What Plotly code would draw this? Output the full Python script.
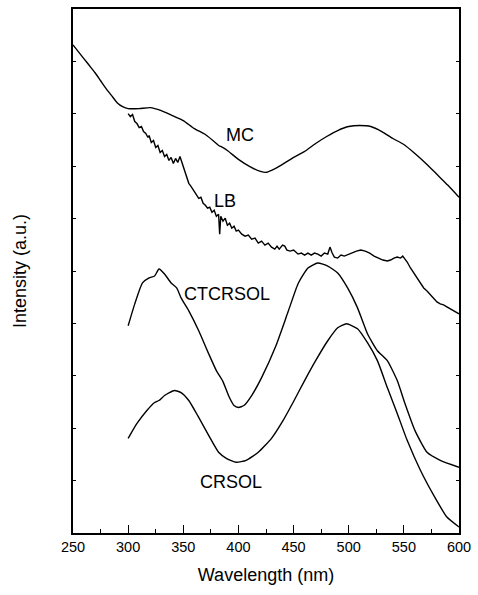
import plotly.graph_objects as go

# Wavelength (nm) and intensity (arbitrary units)
mc_x = [250, 255, 260, 265, 270, 275, 280, 285, 290, 295, 300, 310, 320, 330, 340, 350, 360, 370, 380, 382, 384, 390,
        400, 410, 420, 425, 430, 440, 450, 460, 470, 480, 490, 500, 510, 520, 530, 540, 550, 560, 570, 580, 590, 600]
mc_y = [490, 483, 476, 469, 462, 454, 446, 439, 432, 428, 426, 426, 427, 424, 419, 414, 406, 400, 391, 389, 388, 384,
        375, 368, 363, 362, 364, 370, 377, 383, 391, 398, 404, 408, 409, 408, 403, 396, 390, 381, 371, 360, 349, 337]

lb_x = [300, 302, 304, 306, 308, 310, 312, 314, 316, 318, 319, 321, 323, 325, 327, 329, 331, 333, 335, 337, 339, 341,
        343, 345, 347, 349, 351, 353, 355, 357, 360, 362, 364, 366, 368, 370, 372, 374, 376, 378, 380, 382, 383, 384,
        386, 388, 390, 392, 394, 396, 398, 400, 403, 406, 409, 412, 415, 418, 421, 424, 427, 430, 433, 435, 437, 440,
        442, 444, 447, 450, 454, 457, 460, 463, 466, 469, 472, 475, 478, 481, 483, 485, 487, 490, 493, 496, 500, 503,
        507, 511, 515, 519, 523, 527, 531, 535, 538, 541, 544, 547, 549, 551, 553, 556, 559, 562, 565, 568, 571, 574,
        577, 580, 583, 586, 589, 592, 595, 597, 600]
lb_y = [421, 418, 420, 413, 411, 407, 408, 403, 401, 397, 399, 392, 394, 387, 389, 382, 384, 378, 380, 374, 377, 371,
        376, 372, 378, 371, 364, 358, 351, 348, 343, 340, 336, 337, 331, 329, 326, 327, 322, 324, 318, 320, 300, 318,
        313, 316, 309, 311, 306, 308, 303, 304, 300, 298, 299, 295, 296, 291, 293, 289, 291, 287, 285, 288, 285, 289,
        288, 284, 283, 284, 280, 281, 279, 281, 279, 281, 280, 278, 281, 280, 287, 281, 277, 276, 279, 278, 280, 281,
        283, 284, 283, 281, 278, 276, 274, 273, 274, 276, 277, 276, 278, 275, 272, 266, 261, 256, 250, 246, 243, 239,
        235, 232, 230, 229, 227, 225, 223, 222, 220]

ct_x = [300, 306, 313, 319, 324, 328, 333, 339, 344, 348, 355, 364, 373, 380, 386, 391, 396, 400, 405, 412, 421, 434,
        445, 454, 463, 472, 481, 490, 499, 508, 517, 526, 535, 544, 551, 560, 571, 583, 600]
ct_y = [208, 230, 251, 256, 258, 265, 260, 251, 246, 236, 223, 203, 180, 163, 152, 138, 128, 126, 128, 138, 156, 188,
        222, 250, 266, 271, 268, 261, 246, 226, 200, 183, 173, 153, 130, 103, 81, 73, 66]

cr_x = [300, 308, 317, 324, 328, 333, 342, 348, 355, 364, 373, 382, 389, 398, 407, 418, 430, 440, 450, 460, 470, 481,
        490, 498, 508, 517, 526, 535, 544, 553, 565, 578, 589, 600]
cr_y = [95, 110, 123, 131, 133, 138, 143, 141, 133, 116, 98, 81, 75, 71, 73, 81, 95, 112, 132, 153, 173, 193,
        206, 210, 205, 191, 173, 146, 120, 93, 63, 36, 16, 6]

labels = ["MC", "LB", "CTCRSOL", "CRSOL"]
label_x = [401, 388, 390, 393]
label_y = [400, 333, 240, 51]

x_ticks = [250, 300, 350, 400, 450, 500, 550, 600]

FONT = "Liberation Sans, Arial, sans-serif"
line = dict(color="black", width=1.4)
smooth = dict(color="black", width=1.4, shape="spline", smoothing=0.5)

fig = go.Figure()
fig.add_trace(go.Scatter(x=mc_x, y=mc_y, mode="lines", name="MC", line=smooth))
fig.add_trace(go.Scatter(x=lb_x, y=lb_y, mode="lines", name="LB", line=line))
fig.add_trace(go.Scatter(x=ct_x, y=ct_y, mode="lines", name="CTCRSOL", line=smooth))
fig.add_trace(go.Scatter(x=cr_x, y=cr_y, mode="lines", name="CRSOL", line=smooth))

for t, x, y in zip(labels, label_x, label_y):
    fig.add_annotation(x=x, y=y, text=t, showarrow=False,
                       font=dict(family=FONT, size=18, color="black"))

fig.update_layout(
    width=478, height=595,
    margin=dict(l=73, r=16, t=7, b=62),
    paper_bgcolor="white", plot_bgcolor="white",
    showlegend=False,
    font=dict(family=FONT, color="black"),
    xaxis=dict(range=[250, 600], tickvals=x_ticks, ticktext=[str(v) for v in x_ticks],
               ticks="inside", ticklen=8, tickwidth=1.3, tickcolor="black",
               minor=dict(dtick=25, tick0=250, ticks="inside", ticklen=4, tickwidth=1.3, tickcolor="black"),
               showline=True, linecolor="black", linewidth=1.6, mirror=True,
               showgrid=False, zeroline=False,
               tickfont=dict(family=FONT, size=14.5, color="black"),
               title=dict(text="Wavelength (nm)", font=dict(family=FONT, size=18, color="black"), standoff=14)),
    yaxis=dict(range=[0, 526], tick0=0, dtick=52.6,
               ticks="inside", ticklen=3, tickwidth=1.3, tickcolor="black",
               showticklabels=False,
               showline=True, linecolor="black", linewidth=1.6, mirror="ticks",
               showgrid=False, zeroline=False,
               title=dict(text="Intensity (a.u.)", font=dict(family=FONT, size=18, color="black"), standoff=40)),
)

fig.write_html("out.html", config={"displayModeBar": False},
               post_script="document.body.style.margin='0';document.body.style.padding='0';")
